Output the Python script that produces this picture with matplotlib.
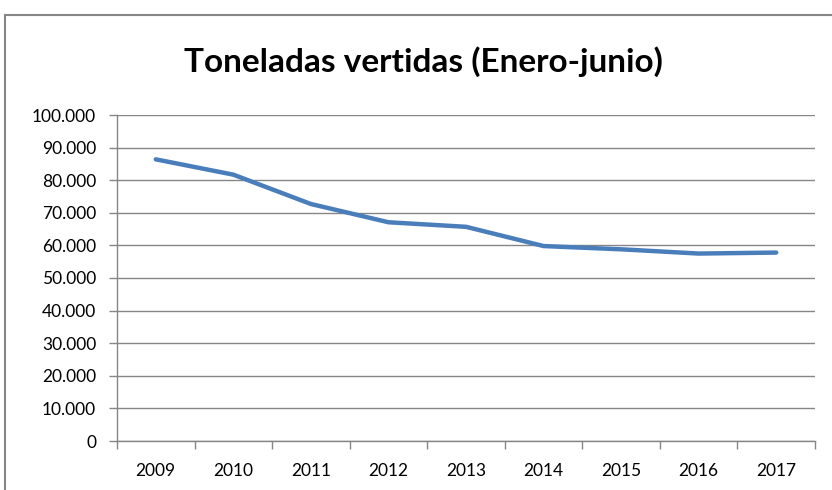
import matplotlib.pyplot as plt
from matplotlib.patches import Rectangle

years = ['2009', '2010', '2011', '2012', '2013', '2014', '2015', '2016', '2017']
toneladas = [86400, 81700, 72700, 67100, 65700, 59800, 58800, 57500, 57800]
yticks = [0, 10000, 20000, 30000, 40000, 50000, 60000, 70000, 80000, 90000, 100000]
ytick_labels = ['0', '10.000', '20.000', '30.000', '40.000', '50.000',
                '60.000', '70.000', '80.000', '90.000', '100.000']

plt.rcParams['font.family'] = ['Lato', 'DejaVu Sans']

fig = plt.figure(figsize=(8.32, 4.9), dpi=100)
ax = fig.add_axes([117 / 832, 49 / 490, 698 / 832, 326 / 490])

x = range(len(years))
ax.plot(x, toneladas, color='#4A7EBB', linewidth=3.2, solid_capstyle='round', zorder=3)

ax.set_xlim(-0.5, len(years) - 0.5)
ax.set_ylim(0, 100000)
ax.set_yticks(yticks)
ax.set_yticklabels(ytick_labels, fontsize=12.5)
ax.set_xticks(list(x))
ax.set_xticklabels(years, fontsize=12.5)
ax.set_xticks([i - 0.5 for i in range(len(years) + 1)], minor=True)

ax.tick_params(axis='x', which='major', length=0, pad=16)
ax.tick_params(axis='x', which='minor', length=6, color='#868686', width=1)
ax.tick_params(axis='y', length=6, color='#868686', width=1, pad=9)

ax.grid(axis='y', color='#868686', linewidth=1)
ax.set_axisbelow(True)
for s in ['top', 'right']:
    ax.spines[s].set_visible(False)
for s in ['left', 'bottom']:
    ax.spines[s].set_color('#868686')
    ax.spines[s].set_linewidth(1)

fig.text(423 / 832, 1 - 62 / 490, 'Toneladas vertidas (Enero-junio)',
         ha='center', va='center', fontsize=24, fontweight='bold')

# marco del gráfico
fig.patches.append(Rectangle((5 / 832, -0.05), 1.0, 1.05 - 15 / 490,
                             transform=fig.transFigure, fill=False,
                             edgecolor='#868686', linewidth=1.5))

fig.savefig('out.png', dpi=100)
